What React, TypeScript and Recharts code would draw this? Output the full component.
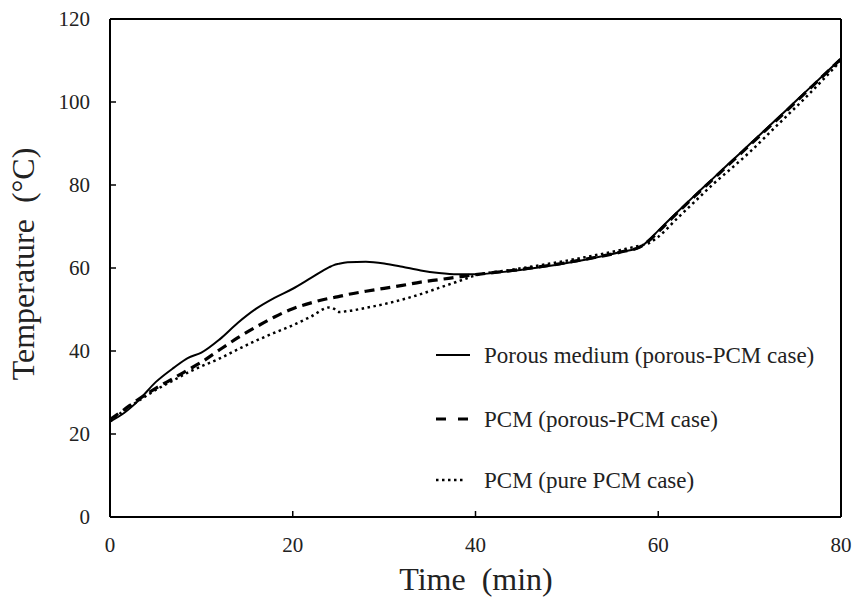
import React from 'react';
import { LineChart, Line, XAxis, YAxis, ReferenceLine } from 'recharts';

// time in minutes
const times = [0, 1.5, 3, 5, 7, 8.5, 10, 12, 14, 16, 18, 20, 22, 24, 24.5, 25, 26, 28, 30, 32, 34, 36, 38, 40, 44, 48, 52, 56, 58, 59, 60, 62, 64, 66, 68, 70, 72, 74, 76, 78, 80];

// Porous medium (porous-PCM case)
const porousMedium = [23, 25, 27.8, 32.5, 36, 38.3, 39.6, 42.8, 46.8, 50.2, 52.8, 55, 57.6, 60.2, 60.7, 61, 61.4, 61.5, 61.1, 60.3, 59.4, 58.8, 58.5, 58.5, 59.3, 60.5, 62, 63.9, 65, 66.8, 69, 73.3, 77.5, 81.6, 85.7, 89.8, 93.9, 98, 102.2, 106.3, 110.5];

// PCM (porous-PCM case)
const pcmPorous = [23.5, 25.8, 28.2, 31, 33.5, 35.4, 37.3, 40.3, 43.2, 45.8, 48.2, 50.2, 51.6, 52.7, 52.9, 53.1, 53.6, 54.4, 55.1, 55.8, 56.6, 57.2, 57.8, 58.4, 59.4, 60.6, 62.1, 63.9, 65.1, 66.6, 68.7, 73.1, 77.3, 81.4, 85.5, 89.6, 93.7, 97.8, 102, 106.2, 110.4];

// PCM (pure PCM case)
const pcmPure = [23, 25.6, 27.8, 30.6, 33, 34.8, 36.3, 38.2, 40.4, 42.5, 44.4, 46.2, 48.3, 50.5, 50.2, 49.4, 49.6, 50.4, 51.3, 52.4, 53.7, 55.2, 56.7, 58.2, 59.6, 61, 62.6, 64.4, 65.4, 66, 67.5, 71.8, 76, 80.2, 84, 87.9, 92.2, 96.5, 100.8, 105.3, 110];

const xTicks = [0, 20, 40, 60, 80];
const yTicks = [0, 20, 40, 60, 80, 100, 120];

const series = [
  { key: 'porous', name: 'Porous medium (porous-PCM case)', width: 2, dash: undefined, legendDash: undefined },
  { key: 'pcmPorous', name: 'PCM (porous-PCM case)', width: 3.2, dash: '10 6', legendDash: '10 12' },
  { key: 'pcmPure', name: 'PCM (pure PCM case)', width: 2.5, dash: '2.5 3.5', legendDash: '2.5 3.5' },
];

const data = times.map((t, i) => ({
  t,
  porous: porousMedium[i],
  pcmPorous: pcmPorous[i],
  pcmPure: pcmPure[i],
}));

const serif = { fontFamily: "'Liberation Serif', 'DejaVu Serif', 'Times New Roman', serif" };

const XTick = ({ x, y, payload }: any) => (
  <g>
    <line x1={x} x2={x} y1={y} y2={y - 6} stroke="#000" strokeWidth={1.5} />
    <text x={x} y={y + 35} textAnchor="middle" fontSize={21} style={serif} fill="#222">
      {payload.value}
    </text>
  </g>
);

const YTick = ({ x, y, payload }: any) => (
  <g>
    <line x1={x} x2={x + 6} y1={y} y2={y} stroke="#000" strokeWidth={1.5} />
    <text x={x - 20} y={y + 7} textAnchor="end" fontSize={21} style={serif} fill="#222">
      {payload.value}
    </text>
  </g>
);

const legendRows = [363, 427, 488];

export default function App() {
  return (
    <div style={{ position: 'absolute', left: 0, top: 0, width: 854, height: 599, background: '#fff' }}>
      <LineChart width={854} height={599} data={data} margin={{ top: 19, right: 13, bottom: 0, left: 0 }}>
        <XAxis
          dataKey="t"
          type="number"
          domain={[0, 80]}
          ticks={xTicks}
          height={82}
          tickSize={0}
          tickMargin={0}
          tickLine={false}
          axisLine={{ stroke: '#000', strokeWidth: 2 }}
          tick={<XTick />}
        />
        <YAxis
          type="number"
          domain={[0, 120]}
          ticks={yTicks}
          width={110}
          tickSize={0}
          tickMargin={0}
          tickLine={false}
          axisLine={{ stroke: '#000', strokeWidth: 2 }}
          tick={<YTick />}
        />
        <ReferenceLine y={120} stroke="#000" strokeWidth={2} />
        <ReferenceLine x={80} stroke="#000" strokeWidth={2} />
        {series.map((s) => (
          <Line
            key={s.key}
            dataKey={s.key}
            type="monotone"
            stroke="#000"
            strokeWidth={s.width}
            strokeDasharray={s.dash}
            dot={false}
            activeDot={false}
            isAnimationActive={false}
          />
        ))}
      </LineChart>

      {/* axis titles and legend */}
      <svg width={854} height={599} style={{ position: 'absolute', left: 0, top: 0, pointerEvents: 'none' }}>
        <text x={476} y={590} textAnchor="middle" fontSize={32} fill="#222" style={{ ...serif, whiteSpace: 'pre' }}>
          {'Time  (min)'}
        </text>
        <text
          x={34}
          y={264}
          textAnchor="middle"
          fontSize={32}
          fill="#222"
          transform="rotate(-90, 34, 264)"
          style={{ ...serif, whiteSpace: 'pre' }}
        >
          {'Temperature  (°C)'}
        </text>
        {series.map((s, i) => (
          <g key={s.key}>
            <line
              x1={436}
              x2={i === 2 ? 466 : 470}
              y1={legendRows[i] - 8}
              y2={legendRows[i] - 8}
              stroke="#000"
              strokeWidth={s.width}
              strokeDasharray={s.legendDash}
            />
            <text x={484} y={legendRows[i]} fontSize={23} fill="#222" style={serif}>
              {s.name}
            </text>
          </g>
        ))}
      </svg>
    </div>
  );
}
